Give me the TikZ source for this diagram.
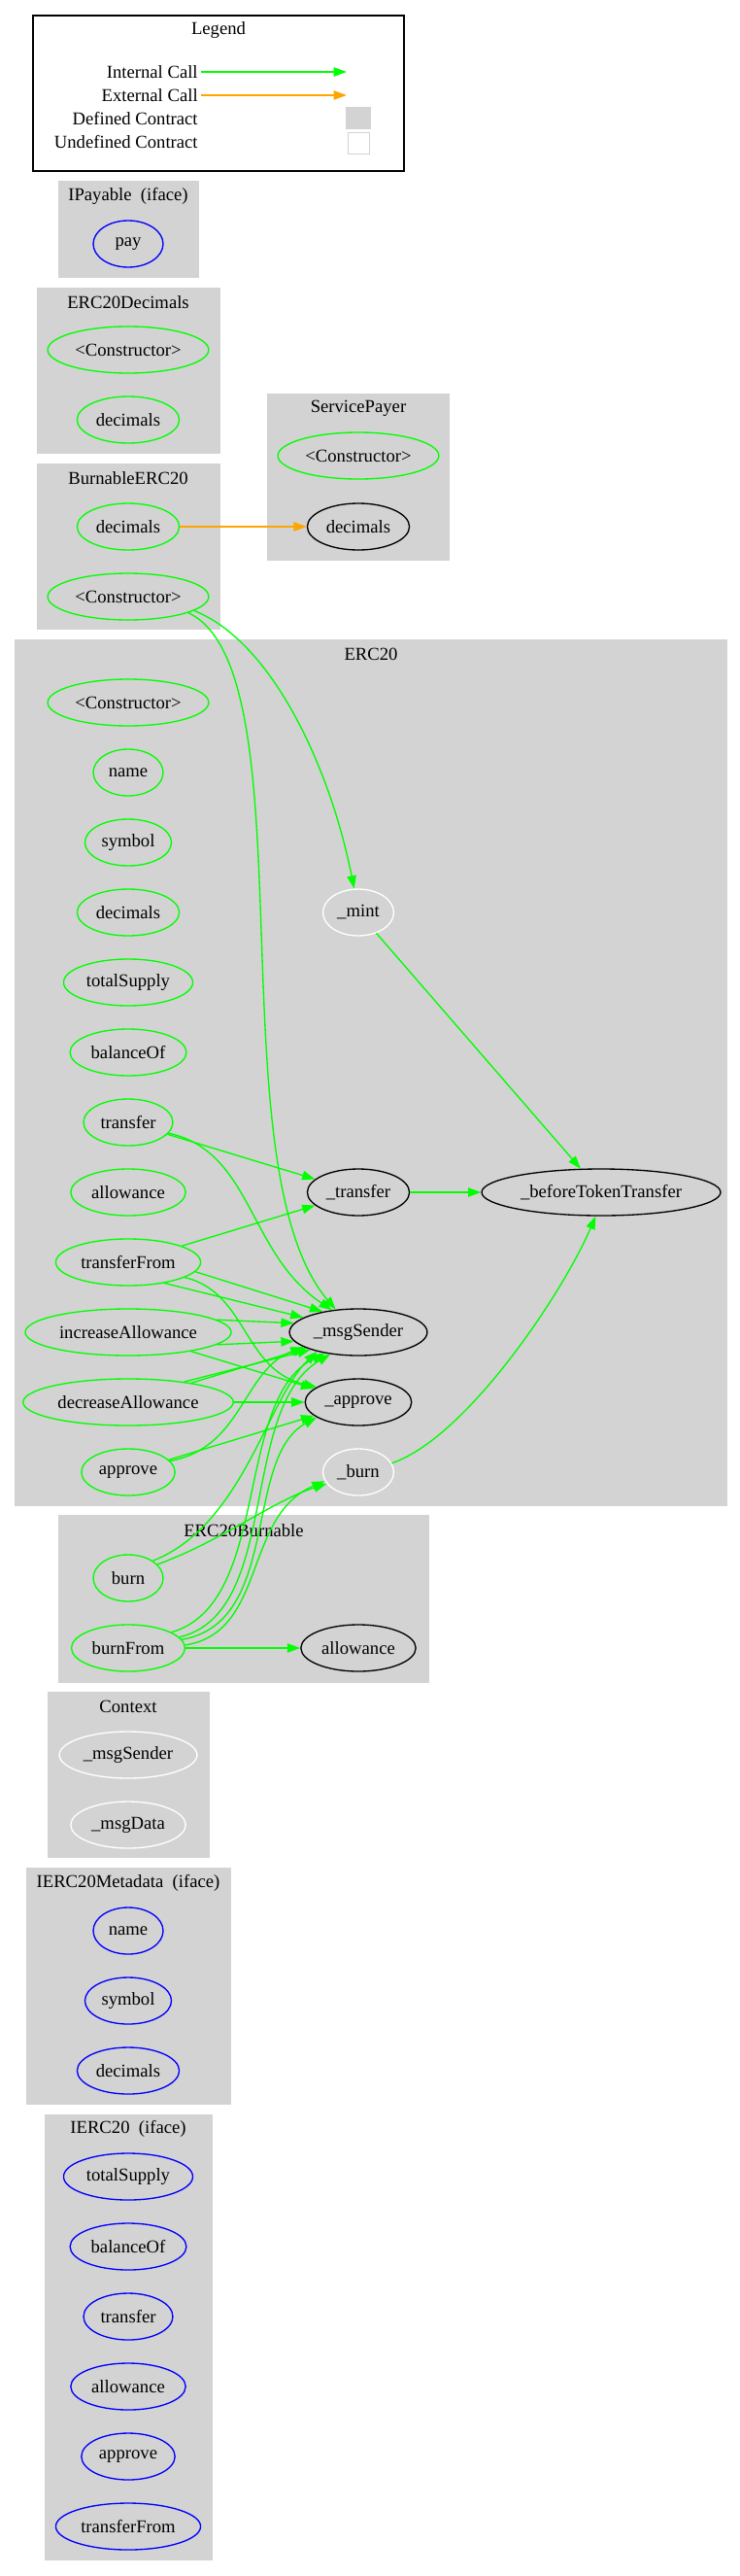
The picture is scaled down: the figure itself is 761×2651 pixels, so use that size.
\documentclass[tikz,border=0pt]{standalone}
\usepackage{fontspec}
\setmainfont{Liberation Serif}
\usetikzlibrary{shapes.geometric, arrows.meta}
\definecolor{callgreen}{HTML}{00FF00}
\definecolor{callorange}{HTML}{FFA500}
\definecolor{ifaceblue}{HTML}{0000FF}
\definecolor{clustergray}{HTML}{D3D3D3}

\begin{document}
\begin{tikzpicture}[
  x=0.75pt, y=-0.75pt,
  line width=1pt,
  font=\fontsize{14pt}{17pt}\selectfont,
  fn/.style={ellipse, draw=callgreen, minimum width=54pt, minimum height=36pt, inner xsep=3pt, inner ysep=0pt},
  ifn/.style={fn, draw=ifaceblue},
  xfn/.style={fn, draw=black},
  ufn/.style={fn, draw=white},
  cluster/.style={fill=clustergray},
  ctitle/.style={inner sep=0pt},
  callarr/.style={-{Triangle[length=10pt, width=7pt]}, draw=callgreen},
  extarr/.style={callarr, draw=callorange}
]
\useasboundingbox (0,0) rectangle (761,2651);

% legend
\node[draw, minimum width=286.5pt, minimum height=120pt, inner sep=0pt] (legend) at (225,96) {};
\node (legendtitle) at (225,31) {Legend};
\node[anchor=east, inner sep=2pt] (lint) at (207,74) {Internal Call};
\node[anchor=east, inner sep=2pt] (lext) at (207,98) {External Call};
\node[anchor=east, inner sep=2pt] (ldef) at (207,122) {Defined Contract};
\node[anchor=east, inner sep=2pt] (lundef) at (207,146) {Undefined Contract};
\coordinate (lintend) at (357,74);
\coordinate (lextend) at (357,98);
\node[fill=clustergray, minimum width=19.5pt, minimum height=17.25pt, inner sep=0pt] (ldefbox) at (369,121.5) {};
\node[draw=clustergray, fill=white, line width=0.6pt, minimum size=16.5pt, inner sep=0pt] (lundefbox) at (369,147) {};
\draw[callarr] (lint) -- (lintend);
\draw[extarr] (lext) -- (lextend);

% clusters
\fill[cluster] (60,186) rectangle (205,286);
\fill[cluster] (38,296) rectangle (227,467);
\fill[cluster] (275,405) rectangle (463,577);
\fill[cluster] (38,477) rectangle (227,648);
\fill[cluster] (15,658) rectangle (749,1550);
\fill[cluster] (60,1559) rectangle (442,1732);
\fill[cluster] (49,1741) rectangle (216,1912);
\fill[cluster] (27,1922) rectangle (238,2166);
\fill[cluster] (46,2176) rectangle (219,2635);

\node[ctitle] (tpay) at (132,202) {IPayable\ \ (iface)};
\node[ctitle] (tdec) at (132,311) {ERC20Decimals};
\node[ctitle] (tsp) at (369,420) {ServicePayer};
\node[ctitle] (tburnable) at (132,492) {BurnableERC20};
\node[ctitle] (terc) at (382,673) {ERC20};
\node[ctitle] (tercburn) at (251,1575) {ERC20Burnable};
\node[ctitle] (tctx) at (132,1756) {Context};
\node[ctitle] (tmeta) at (132,1938) {IERC20Metadata\ \ (iface)};
\node[ctitle] (tierc) at (132,2191) {IERC20\ \ (iface)};

% IPayable
\node[ifn] (ipay) at (132,251) {pay};

% ERC20Decimals
\node[fn] (decctor) at (132,360) {<Constructor>};
\node[fn] (decdec) at (132,432) {decimals};

% ServicePayer
\node[fn] (spctor) at (369,469) {<Constructor>};
\node[xfn] (spdec) at (369,542) {decimals};

% BurnableERC20
\node[fn] (bdec) at (132,542) {decimals};
\node[fn] (bctor) at (132,614) {<Constructor>};

% ERC20
\node[fn] (ector) at (132,723) {<Constructor>};
\node[fn] (ename) at (132,795) {name};
\node[fn] (esym) at (132,867) {symbol};
\node[fn] (edec) at (132,939) {decimals};
\node[fn] (esupply) at (132,1011) {totalSupply};
\node[fn] (ebal) at (132,1083) {balanceOf};
\node[fn] (etransfer) at (132,1155) {transfer};
\node[fn] (eallow) at (132,1227) {allowance};
\node[fn] (etfrom) at (132,1299) {transferFrom};
\node[fn] (eincr) at (132,1371) {increaseAllowance};
\node[fn] (edecr) at (132,1443) {decreaseAllowance};
\node[fn] (eapprove) at (132,1515) {approve};
\node[ufn] (emint) at (369,939) {\_mint};
\node[xfn] (etr) at (369,1227) {\_transfer};
\node[xfn] (emsg) at (369,1371) {\_msgSender};
\node[xfn] (eappr) at (369,1443) {\_approve};
\node[ufn] (eburn) at (369,1515) {\_burn};
\node[xfn] (ebtt) at (619,1227) {\_beforeTokenTransfer};

% ERC20Burnable
\node[fn] (bburn) at (132,1624) {burn};
\node[fn] (bfrom) at (132,1696) {burnFrom};
\node[xfn] (ballow) at (369,1696) {allowance};

% Context
\node[ufn] (cmsg) at (132,1806) {\_msgSender};
\node[ufn] (cdata) at (132,1878) {\_msgData};

% IERC20Metadata
\node[ifn] (mname) at (132,1987) {name};
\node[ifn] (msym) at (132,2059) {symbol};
\node[ifn] (mdec) at (132,2131) {decimals};

% IERC20
\node[ifn] (itotal) at (132,2240) {totalSupply};
\node[ifn] (ibal) at (132,2312) {balanceOf};
\node[ifn] (itr) at (132,2384) {transfer};
\node[ifn] (iallow) at (132,2456) {allowance};
\node[ifn] (iapprove) at (132,2528) {approve};
\node[ifn] (itfrom) at (132,2600) {transferFrom};

% calls
\draw[extarr] (bdec) -- (spdec);
\draw[callarr] (bctor.-12) .. controls (280,660) and (340,790) .. (emint.100);
\draw[callarr] (bctor.-15) .. controls (320,690) and (220,1200) .. (emsg.135);
\draw[callarr] (etransfer.-15) .. controls (260,1185) and (255,1290) .. (emsg.140);
\draw[callarr] (etransfer) -- (etr);
\draw[callarr] (etfrom) -- (etr);
\draw[callarr] (etfrom.-8) -- (emsg.150);
\draw[callarr] (etfrom.-30) -- (emsg.165);
\draw[callarr] (etfrom.-15) .. controls (255,1330) and (250,1410) .. (eappr.160);
\draw[callarr] (eincr.8) -- (emsg.172);
\draw[callarr] (eincr.-8) -- (emsg.-172);
\draw[callarr] (eincr) -- (eappr);
\draw[callarr] (edecr) -- (emsg);
\draw[callarr] (edecr.20) -- (emsg.200);
\draw[callarr] (edecr) -- (eappr);
\draw[callarr] (eapprove) -- (eappr);
\draw[callarr] (eapprove.15) .. controls (250,1490) and (250,1410) .. (emsg.195);
\draw[callarr] (emint) -- (ebtt);
\draw[callarr] (etr) -- (ebtt);
\draw[callarr] (eburn.15) .. controls (480,1480) and (580,1330) .. (ebtt.-103);
\draw[callarr] (bburn.25) .. controls (230,1585) and (280,1545) .. (eburn.200);
\draw[callarr] (bburn.35) .. controls (250,1570) and (275,1440) .. (emsg.205);
\draw[callarr] (bfrom.20) .. controls (280,1650) and (240,1440) .. (emsg.212);
\draw[callarr] (bfrom.12) .. controls (290,1660) and (245,1450) .. (emsg.218);
\draw[callarr] (bfrom.9) .. controls (290,1670) and (250,1500) .. (eappr.200);
\draw[callarr] (bfrom.3) .. controls (275,1680) and (250,1560) .. (eburn.195);
\draw[callarr] (bfrom) -- (ballow);
\end{tikzpicture}
\end{document}
